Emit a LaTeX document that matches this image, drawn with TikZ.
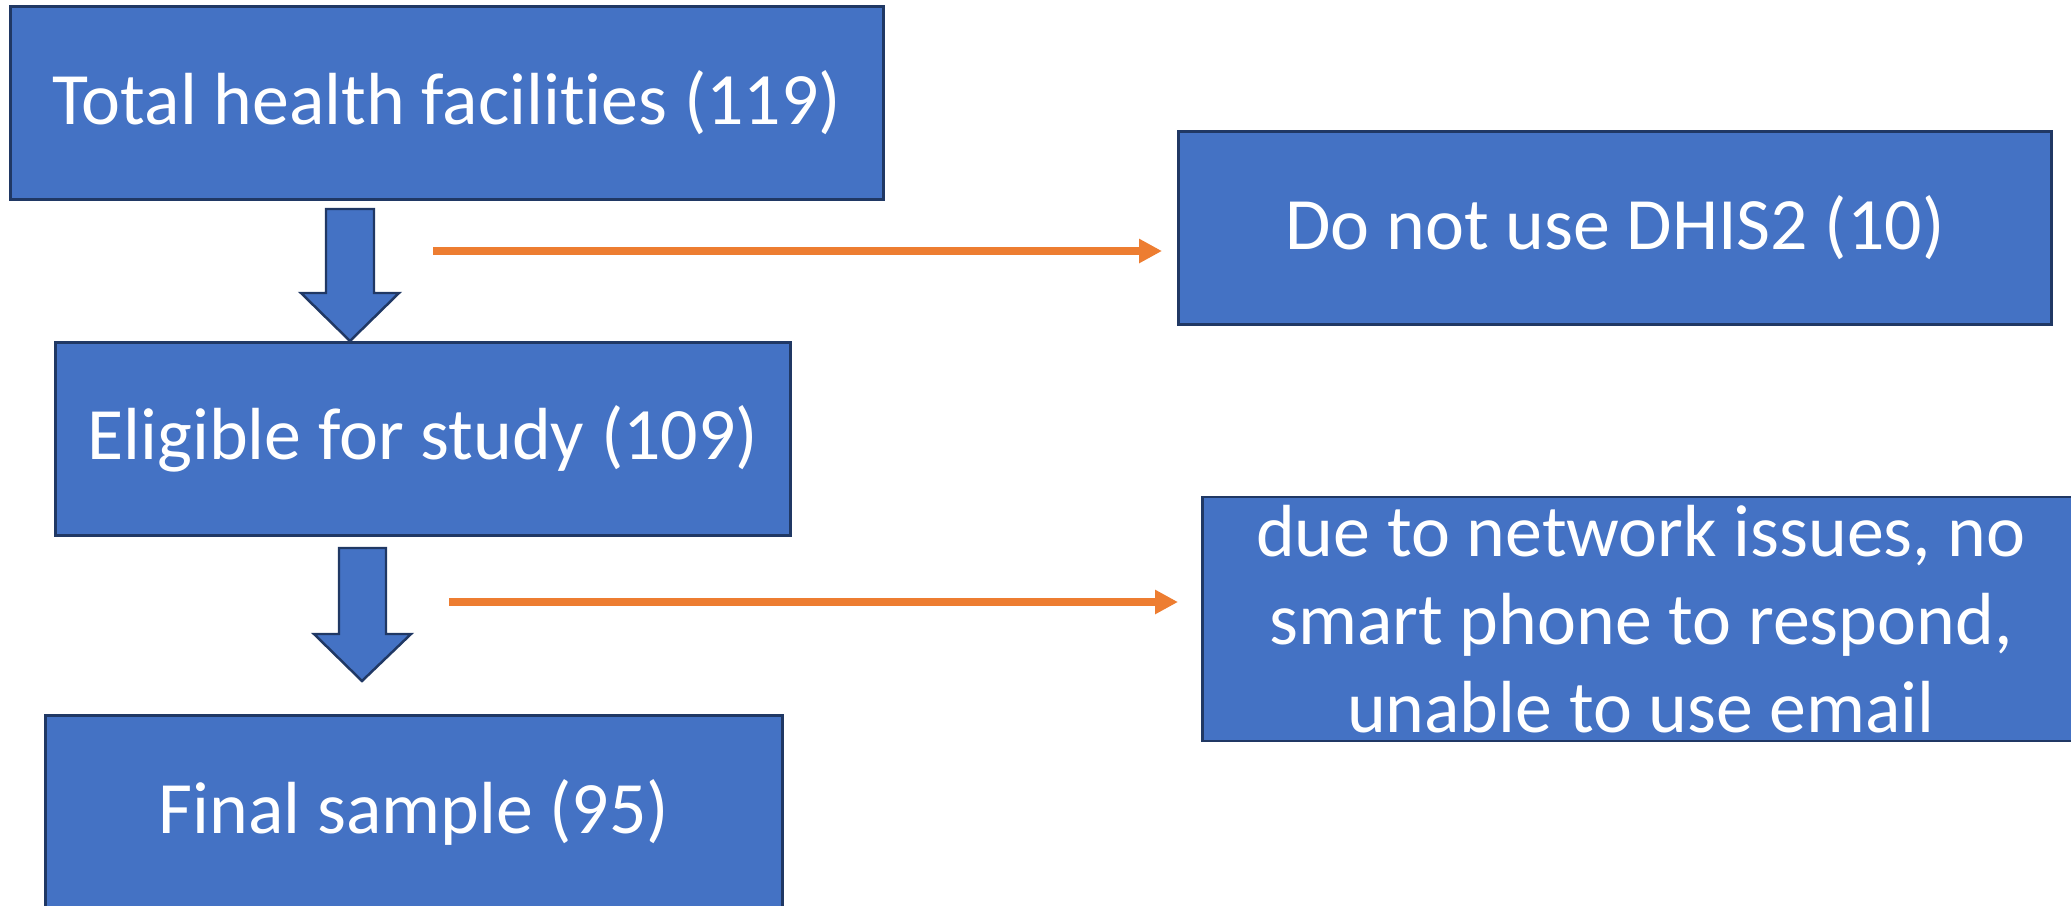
\documentclass[tikz,border=0pt]{standalone}
\usepackage{fontspec}
\setmainfont{Carlito}[Ligatures=NoCommon]
\usetikzlibrary{arrows.meta}
\definecolor{boxblue}{HTML}{4472C4}
\definecolor{boxline}{HTML}{203864}
\definecolor{exclorange}{HTML}{ED7D31}
\begin{document}
\begin{tikzpicture}
[x=0.01cm, y=-0.01cm,
 box/.style={draw=boxline, line width=0.8pt, fill=boxblue, text=white, inner sep=0pt,
  minimum height=1.93cm, font=\fontsize{21}{25}\selectfont, align=center},
 blockarrow/.style={draw=boxline, line width=0.7pt, fill=boxblue},
 exclusion/.style={->, exclorange, line width=2pt},
 >={Triangle[length=6.5pt, width=6.5pt]}]
\clip (0,0) rectangle (2071,905);
\fill[white] (0,0) rectangle (2071,905);

\node (total) at (447,103) [box, minimum width=8.73cm] {Total health facilities (119)};
\node (eligible) at (423,439) [box, minimum width=7.35cm] {Eligible for study (109)};
\node (final) at (414,812) [box, minimum width=7.36cm] {Final sample (95)};
\node (nodhis) at (1615,228) [box, minimum width=8.72cm] {Do not use DHIS2 (10)};
\node (network) at (1641,619) [box, minimum width=8.77cm, minimum height=2.44cm]
  {\parbox[c][2.2cm][c]{8.7cm}{\centering due to network issues, no\\ smart phone to respond,\\ unable to use email}};

% block arrows down the main flow
\draw[blockarrow] (326,209) -- (374,209) -- (374,293) -- (399,293) -- (350,341) -- (301,293) -- (326,293) -- cycle;
\draw[blockarrow] (339,548) -- (386,548) -- (386,634) -- (411,634) -- (362,681) -- (314,634) -- (339,634) -- cycle;

% exclusions
\coordinate (from1) at (433,251);
\coordinate (to1) at (1162,251);
\coordinate (from2) at (449,602);
\coordinate (to2) at (1178,602);
\draw[exclusion] (from1) -- (to1);
\draw[exclusion] (from2) -- (to2);
\end{tikzpicture}
\end{document}
